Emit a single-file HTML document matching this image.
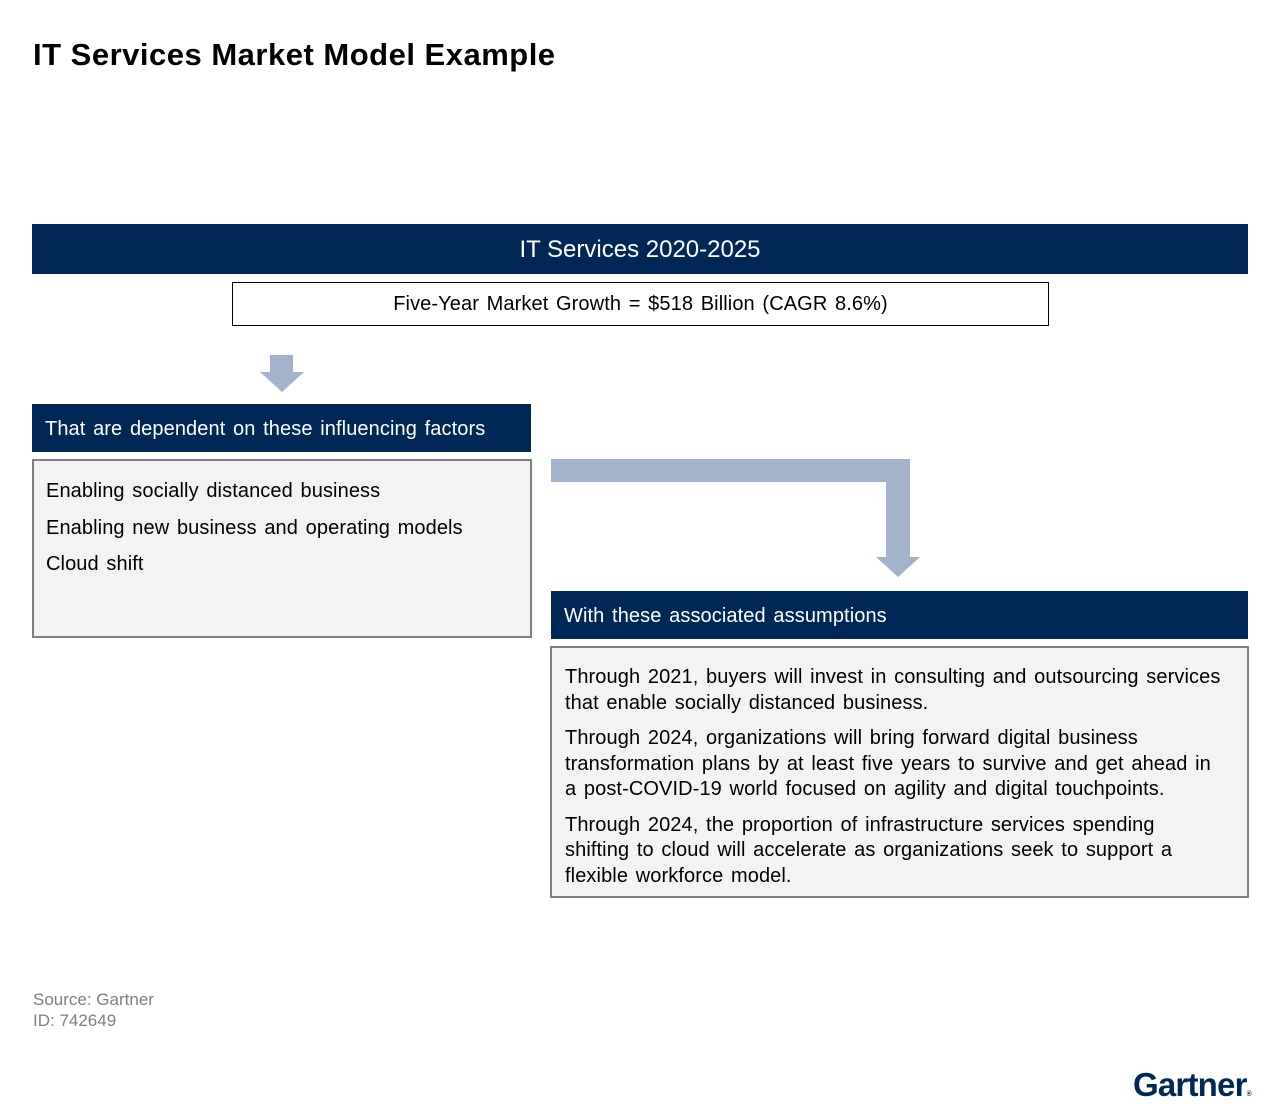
<!DOCTYPE html>
<html><head><meta charset="utf-8"><style>
body{margin:0;width:1280px;height:1114px;background:#fff;font-family:"Liberation Sans",Arial,sans-serif;position:relative;overflow:hidden}
.a{position:absolute}
.hd{background:#002856;color:#fff}
.bx{background:#f3f3f3;border:2px solid #7f8080;box-sizing:border-box;color:#000}
.t{word-spacing:2px;letter-spacing:0.1px;white-space:nowrap}
</style></head><body>
<div class="a" style="left:33px;top:37px;font-size:31px;font-weight:bold;color:#000;letter-spacing:0.5px">IT Services Market Model Example</div>
<div class="a hd" style="left:32px;top:224px;width:1216px;height:50px;font-size:24px;line-height:52px;text-align:center">IT Services 2020-2025</div>
<div class="a t" style="left:232px;top:282px;width:817px;height:44px;border:1px solid #000;box-sizing:border-box;font-size:20px;line-height:42px;text-align:center">Five-Year Market Growth = $518 Billion (CAGR 8.6%)</div>
<svg class="a" style="left:0;top:0" width="1280" height="1114">
<polygon points="270,355 293,355 293,372 304,372 282,392 260,372 270,372" fill="#a2b3cb"/>
<polygon points="551,459 910,459 910,557 920,557 898,577 876,557 886,557 886,482 551,482" fill="#a2b3cb"/>
</svg>
<div class="a hd t" style="left:32px;top:404px;width:499px;height:48px;font-size:20px;line-height:50px;padding-left:13px;box-sizing:border-box">That are dependent on these influencing factors</div>
<div class="a bx t" style="left:32px;top:459px;width:500px;height:179px;font-size:20px;padding:18px 0 0 12px;line-height:24px">
<div style="margin-bottom:13px">Enabling socially distanced business</div>
<div style="margin-bottom:12px">Enabling new business and operating models</div>
<div>Cloud shift</div></div>
<div class="a hd t" style="left:551px;top:591px;width:697px;height:48px;font-size:20px;line-height:50px;padding-left:13px;box-sizing:border-box">With these associated assumptions</div>
<div class="a bx t" style="left:550px;top:646px;width:699px;height:252px;font-size:20px;padding:17px 0 0 13px;line-height:25.5px;overflow:hidden">
<div style="margin-bottom:10px">Through 2021, buyers will invest in consulting and outsourcing services<br>that enable socially distanced business.</div>
<div style="margin-bottom:10px">Through 2024, organizations will bring forward digital business<br>transformation plans by at least five years to survive and get ahead in<br>a post-COVID-19 world focused on agility and digital touchpoints.</div>
<div>Through 2024, the proportion of infrastructure services spending<br>shifting to cloud will accelerate as organizations seek to support a<br>flexible workforce model.</div></div>
<div class="a" style="left:33px;top:989px;font-size:17px;color:#7f7f7f;line-height:21px">Source: Gartner<br>ID: 742649</div>
<div class="a" style="left:1133px;top:1066px;font-size:33px;font-weight:bold;color:#002856;letter-spacing:-0.8px">Gartner<span style="font-size:7px;letter-spacing:0">®</span></div>
</body></html>
